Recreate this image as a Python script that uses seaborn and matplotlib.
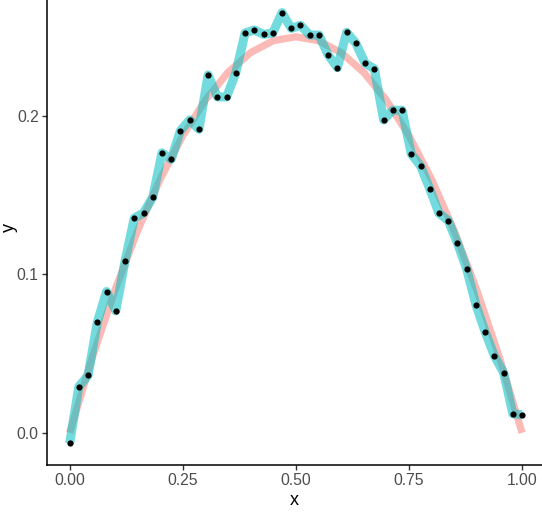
import matplotlib
matplotlib.use("Agg")
import matplotlib.pyplot as plt
import seaborn as sns
import pandas as pd

# pontos observados (com ruído)
x_pontos = [0.0, 0.0204, 0.0408, 0.0612, 0.0816, 0.1020, 0.1224, 0.1429, 0.1633, 0.1837,
            0.2041, 0.2245, 0.2449, 0.2653, 0.2857, 0.3061, 0.3265, 0.3469, 0.3673, 0.3878,
            0.4082, 0.4286, 0.4490, 0.4694, 0.4898, 0.5102, 0.5306, 0.5510, 0.5714, 0.5918,
            0.6122, 0.6327, 0.6531, 0.6735, 0.6939, 0.7143, 0.7347, 0.7551, 0.7755, 0.7959,
            0.8163, 0.8367, 0.8571, 0.8776, 0.8980, 0.9184, 0.9388, 0.9592, 0.9796, 1.0]
y_pontos = [-0.0067, 0.0292, 0.0362, 0.0698, 0.0892, 0.0770, 0.1083, 0.1356, 0.1388, 0.1487,
            0.1767, 0.1727, 0.1907, 0.1975, 0.1916, 0.2259, 0.2120, 0.2120, 0.2273, 0.2524,
            0.2543, 0.2515, 0.2524, 0.2652, 0.2553, 0.2572, 0.2511, 0.2511, 0.2385, 0.2305,
            0.2528, 0.2459, 0.2333, 0.2297, 0.1975, 0.2036, 0.2036, 0.1760, 0.1685, 0.1540,
            0.1386, 0.1340, 0.1197, 0.1033, 0.0808, 0.0637, 0.0486, 0.0379, 0.0120, 0.0114]

# curva suave de referência
x_curva = [0.0, 0.05, 0.10, 0.15, 0.20, 0.25, 0.30, 0.35, 0.40, 0.45, 0.50,
           0.55, 0.60, 0.65, 0.70, 0.75, 0.80, 0.85, 0.90, 0.95, 1.0]
y_curva = [0.0, 0.0475, 0.09, 0.1275, 0.16, 0.1875, 0.21, 0.2275, 0.24, 0.2475, 0.25,
           0.2475, 0.24, 0.2275, 0.21, 0.1875, 0.16, 0.1275, 0.09, 0.0475, 0.0]

df_pontos = pd.DataFrame({"x": x_pontos, "y": y_pontos})
df_curva = pd.DataFrame({"x": x_curva, "y": y_curva})

sns.set_style("white")
plt.rcParams["font.family"] = ["Liberation Sans", "DejaVu Sans"]

fig = plt.figure(figsize=(5.42, 5.13), dpi=100)
ax = fig.add_axes([47 / 542, 48 / 513, 495 / 542, 465 / 513])

sns.lineplot(data=df_curva, x="x", y="y", color="#F8766D", alpha=0.5,
             linewidth=5.2, estimator=None, ax=ax, solid_capstyle="butt",
             solid_joinstyle="round")
sns.lineplot(data=df_pontos, x="x", y="y", color="#00BFC4", alpha=0.55,
             linewidth=6.5, estimator=None, ax=ax, solid_capstyle="butt",
             solid_joinstyle="round")
sns.scatterplot(data=df_pontos, x="x", y="y", color="black", s=20,
                linewidth=0, ax=ax, zorder=5)

ax.set_xlim(-0.05, 1.044)
ax.set_ylim(-0.0203, 0.2732)
ax.set_xticks([0.0, 0.25, 0.5, 0.75, 1.0])
ax.set_xticklabels(["0.00", "0.25", "0.50", "0.75", "1.00"])
ax.set_yticks([0.0, 0.1, 0.2])
ax.set_yticklabels(["0.0", "0.1", "0.2"])

sns.despine(ax=ax)
for lado in ["left", "bottom"]:
    ax.spines[lado].set_color("black")
    ax.spines[lado].set_linewidth(1.1)

ax.tick_params(axis="both", length=3.5, width=1.0, color="#333333",
               labelsize=11.3, labelcolor="#4D4D4D", pad=2.5, direction="out",
               bottom=True, left=True)
ax.set_xlabel("x", fontsize=13, color="black", labelpad=2.5)
ax.set_ylabel("y", fontsize=13, color="black", labelpad=-1)
# o painel original passa do topo da figura: centro do rótulo um pouco acima
ax.yaxis.label.set_y(0.51)

fig.savefig("out.png", dpi=100)
